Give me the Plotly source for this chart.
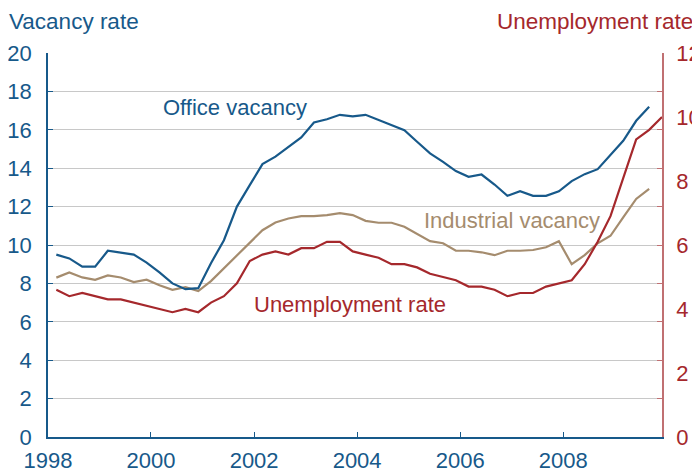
import plotly.graph_objects as go

# Quarterly observations (plotted at the last month of each quarter)
quarters = [f"{y}-{m:02d}-01" for y in range(1998, 2010) for m in (3, 6, 9, 12)]

office_vacancy = [
    9.5, 9.3, 8.87, 8.87, 9.7, 9.6, 9.5, 9.08, 8.57, 8.0, 7.7, 7.75,
    9.05, 10.25, 12.0, 13.12, 14.21, 14.6, 15.1, 15.6, 16.38, 16.55, 16.78, 16.7,
    16.78, 16.5, 16.24, 15.98, 15.38, 14.77, 14.33, 13.85, 13.55, 13.67, 13.15, 12.56,
    12.8, 12.56, 12.56, 12.8, 13.33, 13.69, 13.95, 14.68, 15.43, 16.47, 17.2,
]
industrial_vacancy = [
    8.3, 8.57, 8.31, 8.19, 8.42, 8.31, 8.07, 8.19, 7.9, 7.67, 7.8, 7.6,
    8.12, 8.78, 9.44, 10.1, 10.77, 11.17, 11.38, 11.5, 11.5, 11.56, 11.66, 11.56,
    11.26, 11.16, 11.16, 10.95, 10.6, 10.2, 10.09, 9.7, 9.7, 9.62, 9.47, 9.7,
    9.7, 9.74, 9.88, 10.2, 9.0, 9.47, 10.09, 10.48, 11.44, 12.4, 12.92,
]
unemployment_rate = [
    4.6, 4.4, 4.5, 4.4, 4.3, 4.3, 4.2, 4.1, 4.0, 3.9, 4.0, 3.9,
    4.2, 4.4, 4.8, 5.5, 5.7, 5.8, 5.7, 5.9, 5.9, 6.1, 6.1, 5.8,
    5.7, 5.6, 5.4, 5.4, 5.3, 5.1, 5.0, 4.9, 4.7, 4.7, 4.6, 4.4,
    4.5, 4.5, 4.7, 4.8, 4.9, 5.4, 6.1, 6.9, 8.1, 9.3, 9.6, 10.0,
]

left_ticks = [0, 2, 4, 6, 8, 10, 12, 14, 16, 18, 20]
right_ticks = [0, 2, 4, 6, 8, 10, 12]

BLUE = "#17598a"
TAN = "#a58c6e"
RED = "#a5282c"
RED_LINE = "#c07072"
GRID = "#c8c8c8"
FONT = "Liberation Sans, Arial, sans-serif"
TICK_SIZE = 22
TEXT_SIZE = 22
TITLE_SIZE = 22.5

fig = go.Figure()
fig.add_trace(go.Scatter(x=quarters[:len(industrial_vacancy)], y=industrial_vacancy,
                         mode="lines", line=dict(color=TAN, width=2.2),
                         name="Industrial vacancy", yaxis="y"))
fig.add_trace(go.Scatter(x=quarters[:len(office_vacancy)], y=office_vacancy,
                         mode="lines", line=dict(color=BLUE, width=2.2),
                         name="Office vacancy", yaxis="y"))
fig.add_trace(go.Scatter(x=quarters[:len(unemployment_rate)], y=unemployment_rate,
                         mode="lines", line=dict(color=RED, width=2.2),
                         name="Unemployment rate", yaxis="y2"))

# the page body adds an 8px offset, so the figure is 692x464
fig.update_layout(
    width=692, height=464,
    margin=dict(l=40, r=38, t=45, b=35, autoexpand=False),
    paper_bgcolor="white", plot_bgcolor="white",
    showlegend=False,
    font=dict(family=FONT, size=TICK_SIZE),
    xaxis=dict(
        type="date", automargin=False,
        range=["1998-01-01", "2009-12-01"],
        tick0="1998-01-01", dtick="M24", tickformat="%Y",
        ticks="inside", ticklen=5, tickcolor=BLUE, tickwidth=1,
        showline=True, linecolor=BLUE, linewidth=1.5,
        showgrid=False, zeroline=False,
        tickfont=dict(color=BLUE, size=TICK_SIZE, family=FONT),
        ticklabelstandoff=3,
    ),
    yaxis=dict(
        automargin=False,
        range=[0, 20], tickvals=left_ticks,
        ticks="inside", ticklen=5, tickcolor=BLUE,
        showline=True, linecolor=BLUE, linewidth=1.5,
        showgrid=True, gridcolor=GRID, gridwidth=1.3,
        zeroline=False,
        tickfont=dict(color=BLUE, size=TICK_SIZE, family=FONT),
        ticklabelstandoff=10,
    ),
    yaxis2=dict(
        automargin=False,
        range=[0, 12], tickvals=right_ticks,
        overlaying="y", side="right", anchor="x",
        ticks="", showline=True, linecolor=RED_LINE, linewidth=1.5,
        showgrid=False, zeroline=False,
        tickfont=dict(color=RED, size=TICK_SIZE, family=FONT),
        ticklabelstandoff=8,
    ),
    yaxis3=dict(
        automargin=False,
        range=[0, 20], tickvals=left_ticks,
        overlaying="y", side="right", anchor="x",
        ticks="inside", ticklen=5, tickcolor=RED_LINE,
        showticklabels=False, showline=False,
        showgrid=False, zeroline=False,
    ),
)

# invisible trace to activate yaxis3 (tick marks only)
fig.add_trace(go.Scatter(x=[quarters[0]], y=[0], yaxis="y3", mode="markers",
                         marker=dict(opacity=0), hoverinfo="skip", showlegend=False))

# axis titles
fig.add_annotation(text="Vacancy rate", xref="paper", yref="paper",
                   x=-0.067, y=1.081, xanchor="left", yanchor="middle",
                   showarrow=False, font=dict(color=BLUE, size=TITLE_SIZE, family=FONT))
fig.add_annotation(text="Unemployment rate", xref="paper", yref="paper",
                   x=1.053, y=1.081, xanchor="right", yanchor="middle",
                   showarrow=False, font=dict(color=RED, size=TITLE_SIZE, family=FONT))

# series labels
fig.add_annotation(text="Office vacancy", x="2001-08-15", y=17.15, xref="x", yref="y",
                   showarrow=False, xanchor="center", yanchor="middle",
                   font=dict(color=BLUE, size=TEXT_SIZE, family=FONT))
fig.add_annotation(text="Industrial vacancy", x="2007-01-05", y=11.3, xref="x", yref="y",
                   showarrow=False, xanchor="center", yanchor="middle",
                   font=dict(color=TAN, size=TEXT_SIZE, family=FONT))
fig.add_annotation(text="Unemployment rate", x="2003-11-10", y=6.9, xref="x", yref="y",
                   showarrow=False, xanchor="center", yanchor="middle",
                   font=dict(color=RED, size=TEXT_SIZE, family=FONT))

fig.write_html("out.html")
